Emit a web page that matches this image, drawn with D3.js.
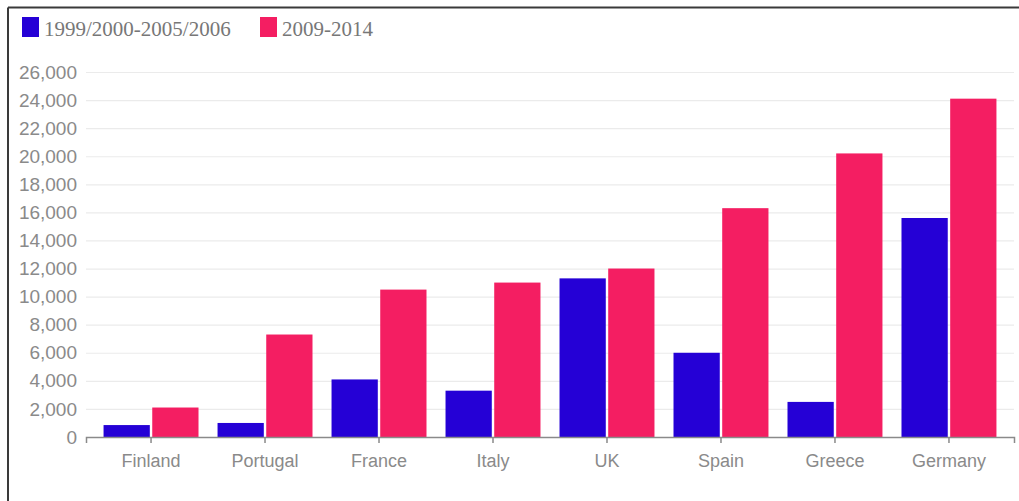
<!DOCTYPE html>
<html>
<head>
<meta charset="utf-8">
<script src="https://cdn.jsdelivr.net/npm/d3@7"></script>
<style>
  html, body { margin: 0; padding: 0; background: #fff; }
  svg { display: block; }
</style>
</head>
<body>
<svg id="chart" width="1019" height="501"></svg>
<script>
// Countries along the x axis
const countries = ["Finland", "Portugal", "France", "Italy", "UK", "Spain", "Greece", "Germany"];
// Two periods being compared
const seriesNames = ["1999/2000-2005/2006", "2009-2014"];
const earlyValues = [850, 1000, 4100, 3300, 11300, 6000, 2500, 15600];
const lateValues  = [2100, 7300, 10500, 11000, 12000, 16300, 20200, 24100];
const seriesColors = ["#2500d6", "#f41e62"];
// y-axis ticks
const yTicks = [0, 2000, 4000, 6000, 8000, 10000, 12000, 14000, 16000, 18000, 20000, 22000, 24000, 26000];

const rows = countries.map((c, i) => ({ country: c, values: [earlyValues[i], lateValues[i]] }));

const svg = d3.select("#chart");

// frame: top and left rules
svg.append("line").attr("x1", 8).attr("x2", 1019).attr("y1", 7.5).attr("y2", 7.5)
  .attr("stroke", "#3a3a3a").attr("stroke-width", 2);
svg.append("line").attr("x1", 8).attr("x2", 8).attr("y1", 7.5).attr("y2", 501)
  .attr("stroke", "#3a3a3a").attr("stroke-width", 2);

const plotLeft = 86, plotRight = 1014, plotTop = 72, plotBottom = 437;

const x0 = d3.scaleBand().domain(countries).range([plotLeft, plotRight])
  .paddingInner(0.167).paddingOuter(0.154);
const x1 = d3.scaleBand().domain([0, 1]).range([0, x0.bandwidth()]).paddingInner(0.05);
const y = d3.scaleLinear().domain([0, 26000]).range([plotBottom, plotTop]);

// horizontal gridlines
svg.append("g").selectAll("line").data(yTicks.filter(d => d > 0)).join("line")
  .attr("x1", plotLeft).attr("x2", plotRight)
  .attr("y1", d => y(d) + 0.5).attr("y2", d => y(d) + 0.5)
  .attr("stroke", "#ebebeb").attr("stroke-width", 1.2);

// y axis labels
const yAxis = svg.append("g").attr("transform", `translate(${plotLeft},0)`)
  .call(d3.axisLeft(y).tickValues(yTicks).tickSize(0).tickPadding(9).tickFormat(d3.format(",")));
yAxis.select(".domain").remove();
yAxis.selectAll("text")
  .attr("font-family", "'Liberation Sans', Arial, sans-serif")
  .attr("font-size", 19).attr("fill", "#8a8a8a");

// bars
const groups = svg.append("g").selectAll("g").data(rows).join("g")
  .attr("transform", d => `translate(${x0(d.country)},0)`);
groups.selectAll("rect").data(d => d.values.map((v, k) => ({ k, v }))).join("rect")
  .attr("x", d => x1(d.k))
  .attr("width", x1.bandwidth())
  .attr("y", d => y(d.v))
  .attr("height", d => y(0) - y(d.v))
  .attr("fill", d => seriesColors[d.k]);

// x axis
const xAxis = svg.append("g").attr("transform", `translate(0,${plotBottom})`)
  .call(d3.axisBottom(x0).tickSizeInner(6).tickSizeOuter(6).tickPadding(11));
xAxis.select(".domain").attr("stroke", "#8a8a8a").attr("stroke-width", 1.5);
xAxis.selectAll(".tick line").attr("stroke", "#8a8a8a").attr("stroke-width", 1.5);
xAxis.selectAll("text")
  .attr("font-family", "'Liberation Sans', Arial, sans-serif")
  .attr("font-size", 18).attr("fill", "#8a8a8a");

// legend
const legend = svg.append("g");
const legendX = [22, 260];
seriesNames.forEach((name, k) => {
  legend.append("rect").attr("x", legendX[k]).attr("y", 17)
    .attr("width", 17).attr("height", 20).attr("fill", seriesColors[k]);
  legend.append("text").attr("x", legendX[k] + 22).attr("y", 36)
    .attr("font-family", "'Liberation Serif', 'Times New Roman', serif")
    .attr("font-size", 21).attr("fill", "#777")
    .text(name);
});
</script>
</body>
</html>
